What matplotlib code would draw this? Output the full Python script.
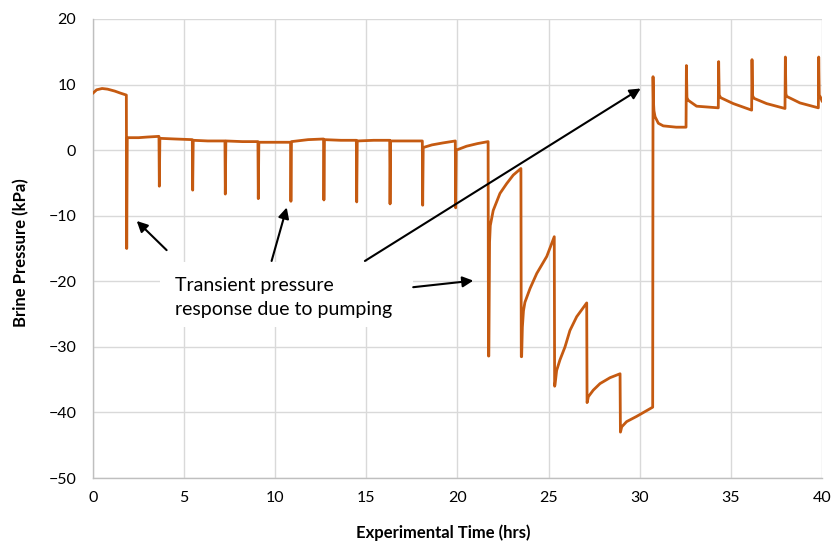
import matplotlib
matplotlib.use("Agg")
import matplotlib.pyplot as plt
from matplotlib.patches import Rectangle

plt.rcParams["font.family"] = ["Lato", "DejaVu Sans"]

# experimental time (hrs) and brine pressure (kPa)
time_hrs = [
    0.00, 0.20, 0.50, 0.80, 1.20, 1.50, 1.83,
    1.85, 1.88, 2.50, 3.00, 3.62,
    3.64, 3.67, 4.50, 5.45,
    5.47, 5.50, 6.30, 7.24,
    7.26, 7.29, 8.20, 9.05,
    9.07, 9.10, 10.00, 10.84,
    10.86, 10.89, 11.80, 12.65,
    12.67, 12.70, 13.60, 14.45,
    14.47, 14.50, 15.40, 16.28,
    16.30, 16.33, 17.20, 18.07,
    18.09, 18.12, 18.60, 19.20, 19.88,
    19.90, 19.93, 20.50, 21.10, 21.68,
    21.70, 21.72, 21.76, 21.80, 21.96, 22.33, 22.70, 23.06, 23.48,
    23.50, 23.52, 23.56, 23.62, 23.70, 23.98, 24.35, 24.90, 25.31,
    25.33, 25.35, 25.44, 25.62, 25.90, 26.17, 26.54, 27.09,
    27.11, 27.13, 27.18, 27.45, 27.82, 28.37, 28.92,
    28.94, 28.96, 29.01, 29.28, 29.83, 30.71,
    30.73, 30.75, 30.78, 30.84, 31.02, 31.29, 32.00, 32.54,
    32.56, 32.59, 32.66, 33.12, 34.31,
    34.33, 34.36, 34.44, 35.13, 36.14,
    36.16, 36.19, 36.27, 36.96, 37.97,
    37.99, 38.02, 38.06, 38.79, 39.80,
    39.82, 39.85, 39.93, 40.00,
]
pressure_kpa = [
    8.7, 9.2, 9.4, 9.3, 9.0, 8.7, 8.4,
    -15.0, 1.9, 1.9, 2.0, 2.1,
    -5.5, 1.8, 1.7, 1.6,
    -6.1, 1.5, 1.4, 1.4,
    -6.7, 1.4, 1.3, 1.3,
    -7.4, 1.2, 1.2, 1.2,
    -7.8, 1.3, 1.6, 1.7,
    -7.6, 1.6, 1.5, 1.5,
    -7.9, 1.4, 1.5, 1.5,
    -8.2, 1.4, 1.4, 1.4,
    -8.4, 0.4, 0.8, 1.1, 1.4,
    -8.8, 0.0, 0.6, 1.0, 1.3,
    -31.4, -31.4, -14.0, -11.5, -9.2, -6.6, -5.1, -3.8, -2.8,
    -31.5, -31.5, -27.0, -24.5, -23.2, -21.1, -18.8, -16.2, -13.2,
    -36.0, -35.8, -33.6, -32.0, -30.0, -27.5, -25.4, -23.3,
    -38.5, -38.3, -37.6, -36.6, -35.6, -34.7, -34.1,
    -43.0, -42.8, -42.2, -41.4, -40.6, -39.2,
    11.2, 7.5, 6.0, 5.1, 4.1, 3.7, 3.5, 3.5,
    12.9, 8.0, 7.6, 6.7, 6.45,
    13.5, 8.4, 8.0, 7.1, 6.1,
    13.8, 8.3, 7.9, 7.1, 6.35,
    14.2, 8.6, 8.2, 7.2, 6.45,
    14.2, 8.4, 8.0, 7.5,
]

x_ticks = [0, 5, 10, 15, 20, 25, 30, 35, 40]
y_ticks = [-50, -40, -30, -20, -10, 0, 10, 20]

note_text = "Transient pressure\nresponse due to pumping"
# (tail, head) of each arrow in data units
note_arrows = [
    ((4.04, -15.25), (2.40, -10.8)),
    ((9.80, -16.9), (10.63, -8.74)),
    ((14.92, -16.9), (30.05, 9.4)),
    ((17.57, -20.9), (20.87, -19.9)),
]

fig = plt.figure(figsize=(8.34, 5.47), dpi=100)
ax = fig.add_axes([0.1115, 0.1261, 0.8741, 0.8392])

ax.plot(time_hrs, pressure_kpa, color="#C55A11", lw=2.0, zorder=3)

ax.set_xlim(0, 40)
ax.set_ylim(-50, 20)
ax.set_xticks(x_ticks)
ax.set_yticks(y_ticks)
ax.grid(True, color="#D9D9D9", lw=1.0, zorder=0)
ax.set_axisbelow(True)
for side in ["top", "right"]:
    ax.spines[side].set_visible(False)
for side in ["left", "bottom"]:
    ax.spines[side].set_color("#BFBFBF")
    ax.spines[side].set_linewidth(1.0)
ax.tick_params(length=0, labelsize=11.5, colors="#000000")
ax.tick_params(axis="y", pad=12)
ax.tick_params(axis="x", pad=9)

ax.set_xlabel("Experimental Time (hrs)", fontsize=12, fontweight="bold")
ax.set_ylabel("Brine Pressure (kPa)", fontsize=12, fontweight="bold")
ax.xaxis.set_label_coords(0.48, -0.102)
ax.yaxis.set_label_coords(-0.087, 0.49)

# white box behind the note
ax.add_patch(Rectangle((3.68, -27.0), 13.89, 9.9, facecolor="white",
                       edgecolor="none", zorder=4))
ax.text(4.5, -22.5, note_text, fontsize=14, ha="left", va="center",
        linespacing=1.5, zorder=5)

for tail, head in note_arrows:
    ax.annotate("", xy=head, xytext=tail,
                arrowprops=dict(arrowstyle="-|>", color="black", lw=1.5,
                                mutation_scale=16, shrinkA=0, shrinkB=0),
                zorder=6)

fig.savefig("out.png", dpi=100)
